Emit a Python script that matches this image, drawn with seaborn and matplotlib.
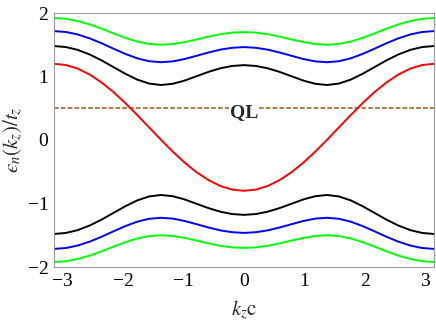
import numpy as np
import pandas as pd
import matplotlib
matplotlib.use("Agg")
import matplotlib.pyplot as plt
import seaborn as sns

# sample positions k_z c
kz = [-3.1416, -2.9452, -2.7489, -2.5525, -2.3562, -2.1598, -1.9635, -1.7671,
      -1.5708, -1.3744, -1.1781, -0.9817, -0.7854, -0.5890, -0.3927, -0.1963,
      0.0,
      0.1963, 0.3927, 0.5890, 0.7854, 0.9817, 1.1781, 1.3744, 1.5708,
      1.7671, 1.9635, 2.1598, 2.3562, 2.5525, 2.7489, 2.9452, 3.1416]

red = [1.200, 1.181, 1.124, 1.031, 0.907, 0.756, 0.583, 0.395,
       0.200, 0.005, -0.183, -0.356, -0.507, -0.631, -0.724, -0.781,
       -0.800,
       -0.781, -0.724, -0.631, -0.507, -0.356, -0.183, 0.005, 0.200,
       0.395, 0.583, 0.756, 0.907, 1.031, 1.124, 1.181, 1.200]

black_up = [1.480, 1.464, 1.419, 1.347, 1.254, 1.149, 1.044, 0.952,
            0.889, 0.866, 0.885, 0.936, 1.004, 1.072, 1.129, 1.166,
            1.179,
            1.166, 1.129, 1.072, 1.004, 0.936, 0.885, 0.866, 0.889,
            0.952, 1.044, 1.149, 1.254, 1.347, 1.419, 1.464, 1.480]

blue_up = [1.715, 1.701, 1.662, 1.601, 1.524, 1.439, 1.356, 1.287,
           1.241, 1.225, 1.238, 1.275, 1.326, 1.378, 1.423, 1.452,
           1.463,
           1.452, 1.423, 1.378, 1.326, 1.275, 1.238, 1.225, 1.241,
           1.287, 1.356, 1.439, 1.524, 1.601, 1.662, 1.701, 1.715]

green_up = [1.921, 1.909, 1.874, 1.820, 1.753, 1.680, 1.609, 1.551,
            1.513, 1.500, 1.511, 1.542, 1.583, 1.628, 1.666, 1.691,
            1.700,
            1.691, 1.666, 1.628, 1.583, 1.542, 1.511, 1.500, 1.513,
            1.551, 1.609, 1.680, 1.753, 1.820, 1.874, 1.909, 1.921]

black_dn = [-1.480, -1.464, -1.419, -1.347, -1.254, -1.149, -1.044, -0.952,
            -0.889, -0.866, -0.885, -0.936, -1.004, -1.072, -1.129, -1.166,
            -1.179,
            -1.166, -1.129, -1.072, -1.004, -0.936, -0.885, -0.866, -0.889,
            -0.952, -1.044, -1.149, -1.254, -1.347, -1.419, -1.464, -1.480]

blue_dn = [-1.715, -1.701, -1.662, -1.601, -1.524, -1.439, -1.356, -1.287,
           -1.241, -1.225, -1.238, -1.275, -1.326, -1.378, -1.423, -1.452,
           -1.463,
           -1.452, -1.423, -1.378, -1.326, -1.275, -1.238, -1.225, -1.241,
           -1.287, -1.356, -1.439, -1.524, -1.601, -1.662, -1.701, -1.715]

green_dn = [-1.921, -1.909, -1.874, -1.820, -1.753, -1.680, -1.609, -1.551,
            -1.513, -1.500, -1.511, -1.542, -1.583, -1.628, -1.666, -1.691,
            -1.700,
            -1.691, -1.666, -1.628, -1.583, -1.542, -1.511, -1.500, -1.513,
            -1.551, -1.609, -1.680, -1.753, -1.820, -1.874, -1.909, -1.921]

ql_level = 0.5
ql_label = "QL"
xticks = [-3, -2, -1, 0, 1, 2, 3]
yticks = [-2, -1, 0, 1, 2]

sns.set_style("white")
plt.rcParams['font.family'] = ['Liberation Serif', 'DejaVu Serif']
plt.rcParams['mathtext.fontset'] = 'stix'

fig = plt.figure(figsize=(4.36, 3.27), dpi=100)
ax = fig.add_axes([54/436, 1 - 267/327, (434 - 54)/436, (267 - 13)/327])

series = [
    (green_up, "#00ff00"), (blue_up, "#0000ff"), (black_up, "#000000"),
    (red, "#ff0000"),
    (black_dn, "#000000"), (blue_dn, "#0000ff"), (green_dn, "#00ff00"),
]
for vals, col in series:
    sns.lineplot(x=kz, y=vals, color=col, linewidth=1.4, ax=ax,
                 sort=False, estimator=None)

ax.axhline(ql_level, color="#a0662e", linewidth=1.2,
           linestyle=(0, (2.8, 1.3)), zorder=1)
ax.text(0, ql_level - 0.07, ql_label, ha="center", va="center",
        fontsize=14, fontweight="bold",
        bbox=dict(facecolor="white", edgecolor="none", pad=0.5), zorder=3)

ax.set_xlim(-np.pi, np.pi)
ax.set_ylim(-2, 2)
ax.set_xticks(xticks)
ax.set_yticks(yticks)
ax.set_xticklabels(["\u22123", "\u22122", "\u22121", "0", "1", "2", "3"])
ax.set_yticklabels(["\u22122", "\u22121", "0", "1", "2"])
ax.tick_params(direction="in", length=3.5, width=0.8, color="#999999",
               labelsize=14, pad=4, labelcolor="black")
for sp in ax.spines.values():
    sp.set_color("#999999")
    sp.set_linewidth(0.8)

ax.set_xlabel(r"$k_z\mathrm{c}$", fontsize=15, labelpad=6)
ax.set_ylabel("$\u03f5_n(k_z)/t_z$", fontsize=15, labelpad=2)

fig.savefig("out.png", dpi=100)
